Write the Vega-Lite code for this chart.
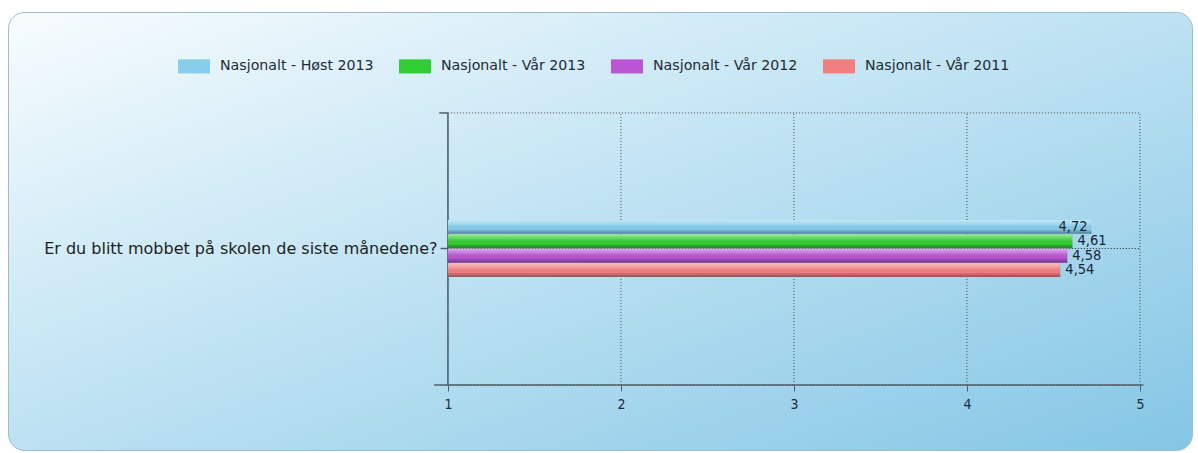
{
  "$schema": "https://vega.github.io/schema/vega-lite/v6.json",
  "width": 1184,
  "height": 438,
  "autosize": "none",
  "padding": {"left": 8, "top": 12, "right": 6, "bottom": 3},
  "background": "white",
  "config": {
    "locale": {"number": {"decimal": ",", "thousands": " ", "grouping": [3], "currency": ["", " kr"]}},
    "font": "DejaVu Sans",
    "view": {
      "fill": {
        "gradient": "linear", "x1": 0, "y1": 0, "x2": 1, "y2": 1,
        "stops": [
          {"offset": 0, "color": "#f8fcfe"},
          {"offset": 0.3, "color": "#d3ecf7"},
          {"offset": 1, "color": "#84c6e5"}
        ]
      },
      "stroke": "#a0bccb",
      "strokeWidth": 1,
      "cornerRadius": 16
    }
  },
  "datasets": {
    "bars": [
      {"question": "Er du blitt mobbet på skolen de siste månedene?", "series": "Nasjonalt - Høst 2013", "value": 4.72},
      {"question": "Er du blitt mobbet på skolen de siste månedene?", "series": "Nasjonalt - Vår 2013", "value": 4.61},
      {"question": "Er du blitt mobbet på skolen de siste månedene?", "series": "Nasjonalt - Vår 2012", "value": 4.58},
      {"question": "Er du blitt mobbet på skolen de siste månedene?", "series": "Nasjonalt - Vår 2011", "value": 4.54}
    ],
    "grid": [{"v": 2}, {"v": 3}, {"v": 4}],
    "one": [{"k": 1}]
  },
  "resolve": {"scale": {"y": "independent"}},
  "layer": [
    {
      "layer": [
        {
          "data": {"name": "one"},
          "mark": {"type": "rect", "fillOpacity": 0, "stroke": "#4a4a4a", "strokeWidth": 1, "strokeDash": [1, 2]},
          "encoding": {
            "x": {"datum": 1, "type": "quantitative", "title": null, "scale": {"domain": [-1.543, 5.301], "nice": false, "zero": false}},
            "x2": {"datum": 5},
            "y": {"datum": 0, "type": "quantitative", "title": null, "axis": null, "scale": {"domain": [-0.239, 1.371], "nice": false, "zero": false}},
            "y2": {"datum": 1}
          }
        },
        {
          "data": {"name": "grid"},
          "mark": {"type": "rule", "stroke": "#4a4a4a", "strokeWidth": 1, "strokeDash": [1, 2]},
          "encoding": {
            "x": {"field": "v", "type": "quantitative", "title": null, "scale": {"domain": [-1.543, 5.301], "nice": false, "zero": false}},
            "y": {"datum": 0, "type": "quantitative", "title": null, "axis": null, "scale": {"domain": [-0.239, 1.371], "nice": false, "zero": false}},
            "y2": {"datum": 1}
          }
        },
        {
          "data": {"name": "one"},
          "mark": {"type": "rule", "stroke": "#4f5f68", "strokeWidth": 1.5},
          "encoding": {
            "x": {"datum": 1, "type": "quantitative", "title": null, "scale": {"domain": [-1.543, 5.301], "nice": false, "zero": false}},
            "y": {"datum": 0, "type": "quantitative", "title": null, "axis": null, "scale": {"domain": [-0.239, 1.371], "nice": false, "zero": false}},
            "y2": {"datum": 1}
          }
        },
        {
          "data": {"name": "one"},
          "mark": {"type": "rule", "stroke": "#4f5f68", "strokeWidth": 1.5},
          "encoding": {
            "x": {"datum": 0.92, "type": "quantitative", "title": null, "scale": {"domain": [-1.543, 5.301], "nice": false, "zero": false}},
            "x2": {"datum": 5.02},
            "y": {"datum": 0, "type": "quantitative", "title": null, "axis": null, "scale": {"domain": [-0.239, 1.371], "nice": false, "zero": false}}
          }
        },
        {
          "data": {"name": "one"},
          "mark": {"type": "rule", "stroke": "#4f5f68", "strokeWidth": 1.5},
          "encoding": {
            "x": {"datum": 0.95, "type": "quantitative", "title": null, "scale": {"domain": [-1.543, 5.301], "nice": false, "zero": false}},
            "x2": {"datum": 1},
            "y": {"datum": 1, "type": "quantitative", "title": null, "axis": null, "scale": {"domain": [-0.239, 1.371], "nice": false, "zero": false}}
          }
        }
      ]
    },
    {
      "data": {"name": "bars"},
      "layer": [
        {
          "mark": {"type": "rule", "stroke": "#4a4a4a", "strokeWidth": 1, "strokeDash": [1, 2]},
          "encoding": {
            "x": {"datum": 1, "type": "quantitative", "title": null, "scale": {"domain": [-1.543, 5.301], "nice": false, "zero": false}},
            "x2": {"datum": 5}
          }
        },
        {
          "mark": {"type": "bar"},
          "encoding": {
            "yOffset": {"field": "series", "type": "nominal", "sort": null, "scale": {"paddingInner": 0.04}},
            "x": {"field": "value", "type": "quantitative", "title": null, "scale": {"domain": [-1.543, 5.301], "nice": false, "zero": false}},
            "x2": {"datum": 1},
            "color": {
              "field": "series", "type": "nominal", "sort": null, "title": null,
              "scale": {
                "domain": ["Nasjonalt - Høst 2013", "Nasjonalt - Vår 2013", "Nasjonalt - Vår 2012", "Nasjonalt - Vår 2011"],
                "range": ["#87CEEB", "#32CD32", "#BA55D3", "#F08080"]
              },
              "legend": {
                "orient": "none",
                "direction": "horizontal",
                "legendX": 170,
                "legendY": 38,
                "symbolType": "M-1,-0.44H1V0.44H-1Z",
                "symbolSize": 1024,
                "symbolStrokeWidth": 0,
                "symbolOpacity": 1,
                "labelFont": "DejaVu Sans",
                "labelFontSize": 14.2,
                "labelColor": "#1e2a36",
                "labelOffset": 10,
                "columnPadding": 25,
                "labelLimit": 300
              }
            }
          }
        },
        {
          "mark": {
            "type": "bar",
            "fill": {
              "gradient": "linear", "x1": 0, "y1": 0, "x2": 0, "y2": 1,
              "stops": [
                {"offset": 0, "color": "rgba(255,255,255,0.5)"},
                {"offset": 0.35, "color": "rgba(255,255,255,0.15)"},
                {"offset": 0.65, "color": "rgba(0,0,0,0.0)"},
                {"offset": 1, "color": "rgba(20,30,40,0.45)"}
              ]
            }
          },
          "encoding": {
            "yOffset": {"field": "series", "type": "nominal", "sort": null, "scale": {"paddingInner": 0.04}},
            "x": {"field": "value", "type": "quantitative", "title": null, "scale": {"domain": [-1.543, 5.301], "nice": false, "zero": false}},
            "x2": {"datum": 1}
          }
        },
        {
          "transform": [{"filter": "datum.series === 'Nasjonalt - Høst 2013'"}],
          "mark": {"type": "text", "align": "right", "baseline": "middle", "dx": -4, "dy": 0, "font": "DejaVu Sans Condensed", "fontSize": 14.5, "color": "#1a2535"},
          "encoding": {
            "yOffset": {"field": "series", "type": "nominal", "sort": null, "scale": {"domain": ["Nasjonalt - Høst 2013", "Nasjonalt - Vår 2013", "Nasjonalt - Vår 2012", "Nasjonalt - Vår 2011"], "paddingInner": 0.04}},
            "x": {"field": "value", "type": "quantitative", "title": null, "scale": {"domain": [-1.543, 5.301], "nice": false, "zero": false}},
            "text": {"field": "value", "type": "quantitative", "format": ".2f"}
          }
        },
        {
          "transform": [{"filter": "datum.series !== 'Nasjonalt - Høst 2013'"}],
          "mark": {"type": "text", "align": "left", "baseline": "middle", "dx": 5, "font": "DejaVu Sans Condensed", "fontSize": 14.5, "color": "#1a2535"},
          "encoding": {
            "yOffset": {"field": "series", "type": "nominal", "sort": null, "scale": {"domain": ["Nasjonalt - Høst 2013", "Nasjonalt - Vår 2013", "Nasjonalt - Vår 2012", "Nasjonalt - Vår 2011"], "paddingInner": 0.04}},
            "x": {"field": "value", "type": "quantitative", "title": null, "scale": {"domain": [-1.543, 5.301], "nice": false, "zero": false}},
            "text": {"field": "value", "type": "quantitative", "format": ".2f"}
          }
        }
      ],
      "encoding": {
        "y": {
          "field": "question", "type": "nominal", "title": null,
          "scale": {"paddingInner": 0.7008, "paddingOuter": 1, "align": 0.546},
          "axis": {
            "offset": -440, "domain": false, "ticks": true, "tickSize": 8, "tickColor": "#4f5f68", "tickWidth": 1.5,
            "labelFont": "DejaVu Sans", "labelFontSize": 16, "labelColor": "#1e1e1e", "labelPadding": 3, "labelLimit": 600, "grid": false
          }
        },
        "x": {
          "type": "quantitative", "title": null,
          "axis": {
            "values": [1, 2, 3, 4, 5], "offset": -65, "domain": false, "grid": false, "tickSize": 6, "tickColor": "#4f5f68", "tickWidth": 1,
            "labelFont": "DejaVu Sans Condensed", "labelFontSize": 14, "labelColor": "#1e2a3a", "labelPadding": 6, "format": "d", "title": null
          }
        }
      }
    }
  ]
}
